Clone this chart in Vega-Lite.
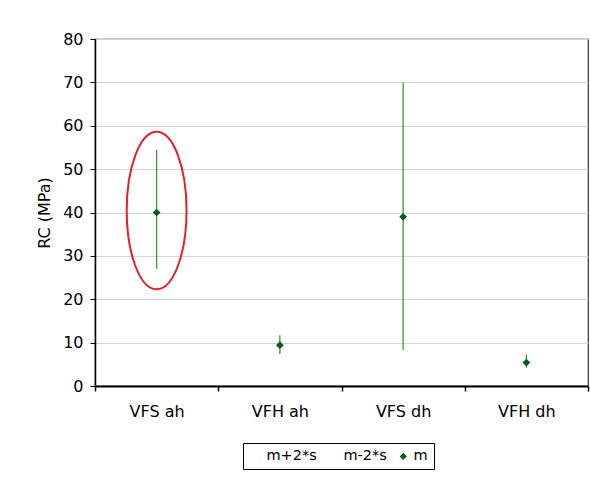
{
  "$schema": "https://vega.github.io/schema/vega-lite/v6.json",
  "autosize": {"type": "none"},
  "width": 493,
  "height": 347,
  "padding": {"left": 95, "top": 39, "right": 2, "bottom": 91},
  "background": "white",
  "view": {"stroke": "#333333", "strokeWidth": 1.2},
  "config": {
    "font": "DejaVu Sans",
    "view": {"stroke": "#333333", "strokeWidth": 1.2},
    "axis": {"labelColor": "black", "titleColor": "black", "labelFont": "DejaVu Sans", "titleFont": "DejaVu Sans"}
  },
  "datasets": {
    "stats": [
      {"cat": "VFS ah", "m": 40, "hi": 54.5, "lo": 27},
      {"cat": "VFH ah", "m": 9.4, "hi": 11.7, "lo": 7.4},
      {"cat": "VFS dh", "m": 39, "hi": 70, "lo": 8.3},
      {"cat": "VFH dh", "m": 5.4, "hi": 7.3, "lo": 4.2}
    ],
    "highlight": [
      {"cat": "VFS ah", "center": 40.45}
    ]
  },
  "layer": [
    {
      "data": {"name": "stats"},
      "mark": {"type": "rule", "color": "#3f963a", "strokeWidth": 1.3},
      "encoding": {
        "x": {
          "field": "cat", "type": "nominal", "sort": null,
          "scale": {"domain": ["VFS ah", "VFH ah", "VFS dh", "VFH dh"], "paddingInner": 0, "paddingOuter": 0},
          "axis": {
            "title": null, "labelAngle": 0, "labelFontSize": 16, "labelPadding": 12,
            "tickBand": "extent", "tickSize": 5, "tickColor": "black", "tickWidth": 1.5,
            "domainColor": "black", "domainWidth": 2, "grid": false
          }
        },
        "y": {
          "field": "lo", "type": "quantitative",
          "scale": {"domain": [0, 80], "nice": false},
          "axis": {
            "title": "RC (MPa)", "titleFontSize": 16, "titleFontWeight": "normal", "titlePadding": 10,
            "values": [0, 10, 20, 30, 40, 50, 60, 70, 80],
            "labelFontSize": 16, "labelPadding": 7, "tickSize": 5, "tickColor": "black",
            "domainColor": "black", "domainWidth": 1.5,
            "grid": true, "gridColor": "#d4d4d4", "gridWidth": 1
          }
        },
        "y2": {"field": "hi"}
      }
    },
    {
      "data": {"name": "stats"},
      "mark": {"type": "point", "shape": "diamond", "filled": true, "size": 60, "opacity": 1},
      "encoding": {
        "x": {"field": "cat", "type": "nominal", "sort": null},
        "y": {"field": "m", "type": "quantitative"},
        "color": {
          "datum": "m",
          "scale": {"domain": ["m+2*s", "m-2*s", "m"], "range": ["transparent", "transparent", "#0b5a1e"]},
          "legend": {
            "title": null, "orient": "none", "legendX": 148, "legendY": 404,
            "direction": "horizontal", "columns": 3,
            "symbolType": "diamond", "symbolSize": 50, "symbolStrokeWidth": 0,
            "labelFontSize": 14.5, "labelFont": "DejaVu Sans", "labelColor": "black",
            "labelOffset": 3, "columnPadding": 9,
            "strokeColor": "black", "fillColor": "white", "padding": 6
          }
        }
      }
    },
    {
      "data": {"name": "highlight"},
      "mark": {
        "type": "point",
        "shape": "M0,-1A0.38,1,0,1,1,0,1A0.38,1,0,1,1,0,-1Z",
        "filled": false, "size": 24806, "stroke": "#e5202a", "strokeWidth": 2, "opacity": 1
      },
      "encoding": {
        "x": {"field": "cat", "type": "nominal", "sort": null},
        "y": {"field": "center", "type": "quantitative"}
      }
    }
  ]
}
